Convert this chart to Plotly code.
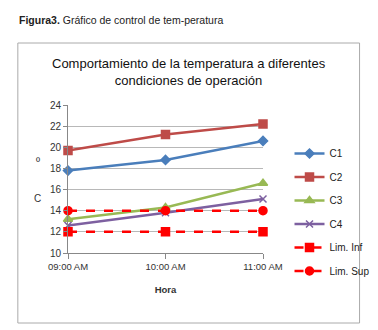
import plotly.graph_objects as go

hours = ["09:00 AM", "10:00 AM", "11:00 AM"]
c1 = [17.8, 18.8, 20.6]
c2 = [19.7, 21.2, 22.2]
c3 = [13.2, 14.3, 16.6]
c4 = [12.6, 13.8, 15.1]
lim_inf = [12, 12, 12]
lim_sup = [14, 14, 14]
y_ticks = [10, 12, 14, 16, 18, 20, 22, 24]

W, H = 378, 330
L, R, T, B = 60, 266, 97, 245
pw, ph = R - L, B - T

def px(x):
    return (x - L) / pw

def py(y):
    return (B - y) / ph

FONT = "Liberation Sans, Arial, sans-serif"

fig = go.Figure()
series = [
    ("C1", c1, "#4A7EBB", "diamond", "solid", 7),
    ("C2", c2, "#BE4B48", "square", "solid", 8),
    ("C3", c3, "#98B954", "triangle-up", "solid", 8),
    ("C4", c4, "#7D60A0", "x-thin", "solid", 7),
    ("Lim. Inf", lim_inf, "#FF0000", "square", "dash", 8),
    ("Lim. Sup", lim_sup, "#FF0000", "circle", "dash", 8),
]
for name, vals, col, sym, dash, ms in series:
    fig.add_trace(go.Scatter(
        x=hours, y=vals, name=name, mode="lines+markers",
        line=dict(color=col, width=2.5, dash=dash),
        marker=dict(symbol=sym, size=ms, color=col, line=dict(color=col, width=1.5)),
        cliponaxis=False, legendgroup=name,
    ))

fig.update_layout(
    width=W, height=H,
    margin=dict(l=L, r=W - R, t=T, b=H - B),
    paper_bgcolor="white", plot_bgcolor="white",
    font=dict(family=FONT, size=10, color="#333333"),
    showlegend=True,
    legend=dict(x=px(294), y=py(131), xanchor="left", yanchor="top",
                font=dict(size=10, family=FONT, color="#222"),
                tracegroupgap=4.5, bgcolor="rgba(0,0,0,0)", itemwidth=30),
)
fig.update_xaxes(
    type="category", range=[0, 2], showgrid=False,
    showline=True, linecolor="#888888", linewidth=1,
    ticks="outside", ticklen=5, tickcolor="#888888",
    tickfont=dict(size=9.5, family=FONT, color="#333"),
    title=dict(text="<b>Hora</b>", font=dict(size=9.5, family=FONT, color="#333"), standoff=14),
)
fig.update_yaxes(
    range=[10, 24], tickvals=y_ticks, showgrid=True, gridcolor="#B8B8B8", gridwidth=1,
    showline=True, linecolor="#888888", linewidth=1,
    ticks="outside", ticklen=4, tickcolor="#888888",
    tickfont=dict(size=10, family=FONT, color="#333"),
    zeroline=False,
)

annotations = [
    dict(text="<b>Figura3.</b> Gráfico de control de tem-peratura", x=px(6), y=py(12),
         xanchor="left", yanchor="middle", font=dict(size=10.5, family=FONT, color="#222")),
    dict(text="Comportamiento de la temperatura a diferentes<br>condiciones de operación",
         x=px(188), y=py(64), xanchor="center", yanchor="middle",
         font=dict(size=13, family=FONT, color="#111")),
    dict(text="º", x=px(28), y=py(153), xanchor="center", yanchor="middle",
         font=dict(size=11, family=FONT, color="#333")),
    dict(text="C", x=px(28), y=py(190), xanchor="center", yanchor="middle",
         font=dict(size=10, family=FONT, color="#333")),
]
for a in annotations:
    a.update(xref="paper", yref="paper", showarrow=False)
fig.update_layout(annotations=annotations)

fig.add_shape(type="rect", xref="paper", yref="paper",
              x0=px(7), x1=px(368), y0=py(35), y1=py(315),
              line=dict(color="#AAAAAA", width=1), fillcolor="rgba(0,0,0,0)", layer="below")

fig.write_html("out.html")
